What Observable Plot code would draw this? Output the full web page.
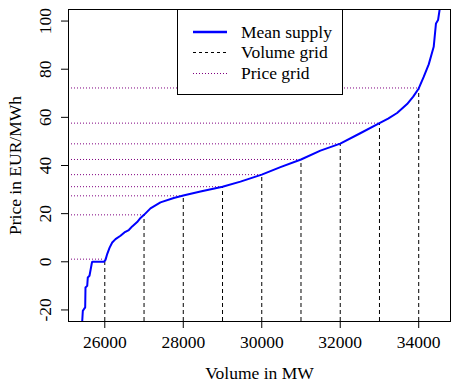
<!DOCTYPE html>
<html>
<head>
<meta charset="utf-8">
<script src="https://cdn.jsdelivr.net/npm/d3@7"></script>
<script src="https://cdn.jsdelivr.net/npm/@observablehq/plot@0.6"></script>
<style>
  html, body { margin: 0; padding: 0; background: white; }
  #wrap { position: relative; width: 466px; height: 391px; font-family: "Liberation Serif", "DejaVu Serif", serif; }
  #chart svg { display: block; }
  #legend { position: absolute; left: 177px; top: 9px; width: 166px; height: 86px; box-sizing: border-box;
            border: 1px solid black; background: white; }
  .item { position: absolute; left: 0; height: 20px; width: 100%; }
  .item svg { position: absolute; left: 14px; top: 0; }
  .item span { position: absolute; left: 63px; top: 0; line-height: 20px; font-size: 17.5px; color: black; white-space: nowrap; font-family: "Liberation Serif", "DejaVu Serif", serif; }
</style>
</head>
<body>
<div id="wrap">
  <div id="chart"></div>
  <div id="legend">
    <div class="item" style="top:12px"><svg width="36" height="20"><line x1="1" x2="35" y1="10" y2="10" stroke="#0000ff" stroke-width="2.5"/></svg><span>Mean supply</span></div>
    <div class="item" style="top:32px"><svg width="36" height="20"><line x1="1" x2="35" y1="10.5" y2="10.5" stroke="black" stroke-width="1" stroke-dasharray="3,3"/></svg><span>Volume grid</span></div>
    <div class="item" style="top:53px"><svg width="36" height="20"><line x1="1" x2="35" y1="10.5" y2="10.5" stroke="#800080" stroke-width="1" stroke-dasharray="1,2"/></svg><span>Price grid</span></div>
  </div>
</div>
<script>
// Mean supply curve (volume in MW, price in EUR/MWh)
const supplyVolume = [25420, 25440, 25483, 25500, 25508, 25552, 25567, 25610, 25670, 25679, 25975, 26018, 26061, 26120, 26189, 26273, 26400, 26500, 26612, 26698, 26825, 26910, 27000, 27164, 27419, 27758, 28000, 28438, 29000, 29457, 30000, 30476, 31000, 31495, 32000, 32510, 33000, 33220, 33449, 33704, 33860, 34000, 34127, 34255, 34382, 34440, 34493, 34535, 34560];
const supplyPrice  = [-26, -20.4, -19.3, -19, -10.7, -10, -6.5, -5.8, -0.5, 0, 0, 0.8, 3.2, 5.8, 8, 9.4, 10.8, 12.2, 13.2, 14.7, 16.5, 18.2, 19.5, 22.2, 24.7, 26.5, 27.5, 29.2, 31.2, 33.3, 36.2, 39.3, 42.5, 46.2, 49.1, 53.4, 57.6, 59.5, 61.8, 65.5, 68.6, 72, 76.8, 82, 89.3, 99, 100.4, 105, 112];

// Grid points
const gridVolume = [26000, 27000, 28000, 29000, 30000, 31000, 32000, 33000, 34000];
const gridPrice  = [1.1, 19.5, 27.4, 31.2, 36.2, 42.5, 49.0, 57.6, 72.2];

// Axis ticks
const xTicks = [26000, 28000, 30000, 32000, 34000];
const yTicks = [-20, 0, 20, 40, 60, 80, 100];

const xDomain = [25075, 34810];
const yDomain = [-24.8, 104.8];

const supply = supplyVolume.map((v, i) => ({v, p: supplyPrice[i]}));
const grid = gridVolume.map((v, i) => ({v, p: gridPrice[i]}));

const chart = Plot.plot({
  width: 466, height: 391,
  marginLeft: 68, marginRight: 16, marginTop: 9, marginBottom: 70,
  x: {domain: xDomain},
  y: {domain: yDomain},
  style: {fontFamily: "'Liberation Serif', 'DejaVu Serif', serif", fontSize: "17.5px", background: "white", color: "black", overflow: "visible"},
  marks: [
    Plot.ruleY(grid, {y: "p", x1: xDomain[0], x2: "v", stroke: "#800080", strokeWidth: 1, strokeDasharray: "1,2"}),
    Plot.ruleX(grid, {x: "v", y1: yDomain[0], y2: "p", stroke: "black", strokeWidth: 1, strokeDasharray: "4,3"}),
    Plot.line(supply, {x: "v", y: "p", stroke: "#0000ff", strokeWidth: 2, clip: true}),
    Plot.frame({stroke: "black"}),
    Plot.axisX(xTicks, {tickSize: 7, tickPadding: 7, label: null, fontSize: 17.5, tickFormat: d => String(d)}),
    Plot.axisY(yTicks, {tickSize: 7, label: null, tickFormat: () => ""}),
    Plot.text(yTicks, {y: d => d, text: d => String(d), frameAnchor: "left", textAnchor: "middle", lineAnchor: "middle", dx: -23, rotate: -90, fontSize: 17.5}),
    Plot.text(["Volume in MW"], {frameAnchor: "bottom", textAnchor: "middle", lineAnchor: "middle", dy: 52, text: d => d, fontSize: 17.5}),
    Plot.text(["Price in EUR/MWh"], {frameAnchor: "left", textAnchor: "middle", lineAnchor: "middle", dx: -53, rotate: -90, text: d => d, fontSize: 17.5})
  ]
});
document.getElementById("chart").appendChild(chart);
</script>
</body>
</html>
